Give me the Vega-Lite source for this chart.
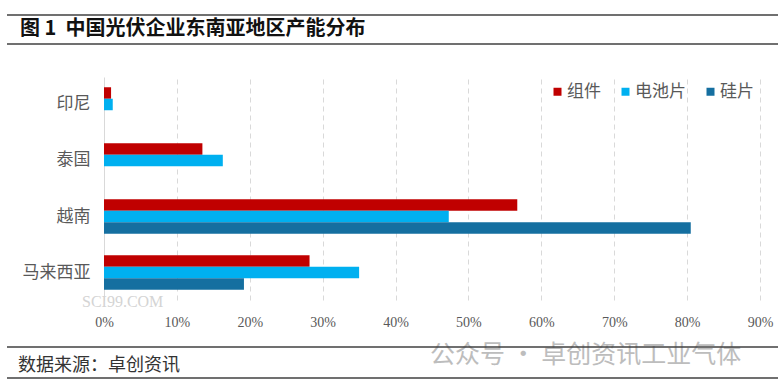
{
  "$schema": "https://vega.github.io/schema/vega-lite/v6.json",
  "width": 656,
  "height": 223,
  "autosize": {"type": "none"},
  "padding": {"left": 104, "top": 77, "right": 22, "bottom": 92},
  "background": "white",
  "config": {
    "view": {"stroke": null},
    "font": "Noto Sans CJK SC"
  },
  "data": {
    "values": [
      {"region": "印尼", "type": "组件", "share": 0.0097},
      {"region": "印尼", "type": "电池片", "share": 0.012},
      {"region": "泰国", "type": "组件", "share": 0.135},
      {"region": "泰国", "type": "电池片", "share": 0.163},
      {"region": "越南", "type": "组件", "share": 0.567},
      {"region": "越南", "type": "电池片", "share": 0.473},
      {"region": "越南", "type": "硅片", "share": 0.805},
      {"region": "马来西亚", "type": "组件", "share": 0.282},
      {"region": "马来西亚", "type": "电池片", "share": 0.35},
      {"region": "马来西亚", "type": "硅片", "share": 0.192}
    ]
  },
  "resolve": {"scale": {"x": "independent", "y": "independent"}, "axis": {"x": "independent", "y": "independent"}},
  "layer": [
    {
      "data": {"values": [{}]},
      "mark": {"type": "text", "align": "left", "baseline": "middle", "font": "Liberation Serif", "fontSize": 16, "color": "#d4d4d4"},
      "encoding": {
        "x": {"datum": -0.0302, "type": "quantitative", "scale": {"domain": [0, 0.9]}, "axis": null},
        "y": {"datum": -2, "type": "quantitative", "scale": {"domain": [0, 223]}, "axis": null},
        "text": {"value": "SCI99.COM"}
      }
    },
    {
      "mark": {"type": "bar"},
      "encoding": {
        "y": {
          "field": "region", "type": "nominal",
          "sort": ["印尼", "泰国", "越南", "马来西亚"],
          "scale": {"paddingInner": 0.384, "paddingOuter": 0.183},
          "axis": {"title": null, "ticks": false, "domain": true, "domainColor": "#d9d9d9", "labelFontSize": 17, "labelColor": "#595959", "labelPadding": 14, "labelFont": "Noto Sans CJK SC"}
        },
        "yOffset": {"field": "type", "type": "nominal", "scale": {"domain": ["组件", "电池片", "硅片"]}},
        "x": {
          "field": "share", "type": "quantitative",
          "scale": {"domain": [0, 0.9]},
          "axis": {"title": null, "format": ".0%", "values": [0, 0.1, 0.2, 0.3, 0.4, 0.5, 0.6, 0.7, 0.8, 0.9], "labelFlush": false, "domain": false, "ticks": false, "grid": true, "gridColor": "#d9d9d9", "gridDash": [5, 4], "labelFontSize": 14, "labelColor": "#595959", "labelPadding": 15, "labelFont": "Liberation Sans Narrow"}
        },
        "color": {
          "field": "type", "type": "nominal",
          "scale": {"domain": ["组件", "电池片", "硅片"], "range": ["#C00000", "#00B0F0", "#156FA0"]},
          "legend": {"title": null, "orient": "top-right", "direction": "horizontal", "offset": 6, "symbolType": "square", "symbolSize": 64, "labelFontSize": 17, "labelColor": "#595959", "columnPadding": 16, "labelOffset": 1, "symbolStrokeWidth": 0, "labelFont": "Noto Sans CJK SC"}
        }
      }
    },
    {
      "data": {"values": [{}]},
      "mark": {"type": "text", "align": "left", "baseline": "middle", "fontSize": 20, "fontWeight": "bold", "color": "#111111"},
      "encoding": {
        "x": {"datum": -0.1152, "type": "quantitative", "scale": {"domain": [0, 0.9]}, "axis": null},
        "y": {"datum": 271, "type": "quantitative", "scale": {"domain": [0, 223]}, "axis": null},
        "text": {"value": "图 1\u00a0\u00a0中国光伏企业东南亚地区产能分布"}
      }
    },
    {
      "data": {"values": [{}]},
      "mark": {"type": "text", "align": "left", "baseline": "middle", "fontSize": 18, "color": "#333333"},
      "encoding": {
        "x": {"datum": -0.1180, "type": "quantitative", "scale": {"domain": [0, 0.9]}, "axis": null},
        "y": {"datum": -66, "type": "quantitative", "scale": {"domain": [0, 223]}, "axis": null},
        "text": {"value": "数据来源：卓创资讯"}
      }
    },
    {
      "data": {"values": [{}]},
      "mark": {"type": "text", "align": "left", "baseline": "middle", "fontSize": 25, "color": "#bdbdbd"},
      "encoding": {
        "x": {"datum": 0.4473, "type": "quantitative", "scale": {"domain": [0, 0.9]}, "axis": null},
        "y": {"datum": -55, "type": "quantitative", "scale": {"domain": [0, 223]}, "axis": null},
        "text": {"value": "公众号 · 卓创资讯工业气体"}
      }
    },
    {
      "data": {"values": [{}]},
      "mark": {"type": "rule", "color": "#404040", "strokeWidth": 1.5},
      "encoding": {
        "x": {"datum": -0.1331, "type": "quantitative", "scale": {"domain": [0, 0.9]}, "axis": null},
        "x2": {"datum": 0.9247},
        "y": {"datum": 285, "type": "quantitative", "scale": {"domain": [0, 223]}, "axis": null}
      }
    },
    {
      "data": {"values": [{}]},
      "mark": {"type": "rule", "color": "#404040", "strokeWidth": 1.5},
      "encoding": {
        "x": {"datum": -0.1331, "type": "quantitative", "scale": {"domain": [0, 0.9]}, "axis": null},
        "x2": {"datum": 0.9247},
        "y": {"datum": 256, "type": "quantitative", "scale": {"domain": [0, 223]}, "axis": null}
      }
    },
    {
      "data": {"values": [{}]},
      "mark": {"type": "rule", "color": "#404040", "strokeWidth": 1.5},
      "encoding": {
        "x": {"datum": -0.1331, "type": "quantitative", "scale": {"domain": [0, 0.9]}, "axis": null},
        "x2": {"datum": 0.9247},
        "y": {"datum": -47, "type": "quantitative", "scale": {"domain": [0, 223]}, "axis": null}
      }
    },
    {
      "data": {"values": [{}]},
      "mark": {"type": "rule", "color": "#404040", "strokeWidth": 1.5},
      "encoding": {
        "x": {"datum": -0.1331, "type": "quantitative", "scale": {"domain": [0, 0.9]}, "axis": null},
        "x2": {"datum": 0.9247},
        "y": {"datum": -78, "type": "quantitative", "scale": {"domain": [0, 223]}, "axis": null}
      }
    }
  ]
}
